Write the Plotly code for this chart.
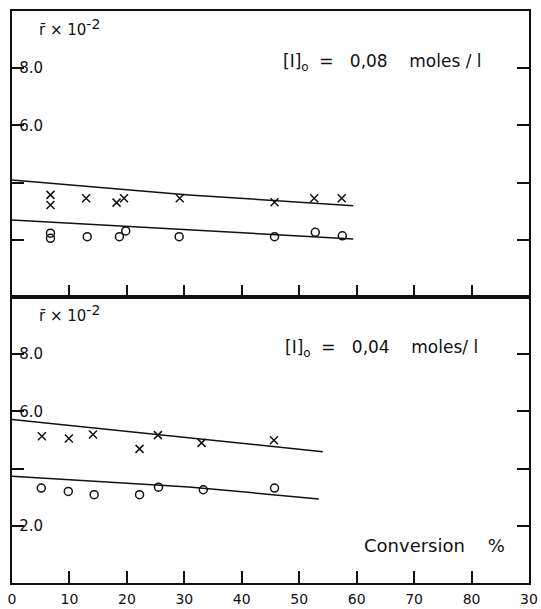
import plotly.graph_objects as go

# ---- data: [I]o = 0.08 moles/l (upper panel)
top_cross_x = [6.7, 6.7, 12.9, 18.2, 19.5, 29.2, 45.7, 52.6, 57.4]
top_cross_y = [3.57, 3.22, 3.45, 3.30, 3.45, 3.45, 3.31, 3.45, 3.45]
top_circ_x = [6.7, 6.7, 13.1, 18.7, 19.8, 29.1, 45.7, 52.8, 57.5]
top_circ_y = [2.23, 2.05, 2.11, 2.11, 2.31, 2.11, 2.11, 2.26, 2.14]
top_line_x = [0, 30.8, 59.4]
top_upper_line_y = [4.09, 3.57, 3.19]
top_lower_line_y = [2.69, 2.34, 2.03]

# ---- data: [I]o = 0.04 moles/l (lower panel)
bot_cross_x = [5.2, 9.9, 14.1, 22.2, 25.4, 33.0, 45.6]
bot_cross_y = [5.13, 5.05, 5.19, 4.69, 5.17, 4.90, 4.99]
bot_circ_x = [5.1, 9.8, 14.3, 22.2, 25.5, 33.3, 45.7]
bot_circ_y = [3.32, 3.20, 3.09, 3.09, 3.35, 3.26, 3.32]
bot_upper_line_x = [0, 30.8, 54.1]
bot_upper_line_y = [5.72, 5.08, 4.59]
bot_lower_line_x = [0, 30.8, 53.4]
bot_lower_line_y = [3.73, 3.36, 2.94]

x_tickvals = [0, 10, 20, 30, 40, 50, 60, 70, 80, 90]
x_ticktext = ["0", "10", "20", "30", "40", "50", "60", "70", "80", "30"]
y_tickvals = [2, 4, 6, 8]
top_y_ticktext = ["", "", "6.0", "8.0"]
bot_y_ticktext = ["2.0", "", "6.0", "8.0"]

FONT = "DejaVu Sans"
BLACK = "#111111"

fig = go.Figure()

def add_panel(xa, ya, cx, cy, ox, oy, ulx, uly, llx, lly):
    fig.add_trace(go.Scatter(x=ulx, y=uly, mode="lines", line=dict(color=BLACK, width=1.5),
                             xaxis=xa, yaxis=ya, showlegend=False, hoverinfo="skip"))
    fig.add_trace(go.Scatter(x=llx, y=lly, mode="lines", line=dict(color=BLACK, width=1.5),
                             xaxis=xa, yaxis=ya, showlegend=False, hoverinfo="skip"))
    fig.add_trace(go.Scatter(x=cx, y=cy, mode="markers",
                             marker=dict(symbol="x-thin", size=8, line=dict(color=BLACK, width=1.5)),
                             xaxis=xa, yaxis=ya, showlegend=False))
    fig.add_trace(go.Scatter(x=ox, y=oy, mode="markers",
                             marker=dict(symbol="circle-open", size=8, color=BLACK, line=dict(color=BLACK, width=1.5)),
                             xaxis=xa, yaxis=ya, showlegend=False))

add_panel("x2", "y2", top_cross_x, top_cross_y, top_circ_x, top_circ_y,
          top_line_x, top_upper_line_y, top_line_x, top_lower_line_y)
add_panel("x", "y", bot_cross_x, bot_cross_y, bot_circ_x, bot_circ_y,
          bot_upper_line_x, bot_upper_line_y, bot_lower_line_x, bot_lower_line_y)

common_x = dict(range=[0, 90], tickvals=x_tickvals, ticks="inside", ticklen=12, tickwidth=1.5,
                tickcolor=BLACK, showline=True, linewidth=2, linecolor=BLACK, mirror=True,
                showgrid=False, zeroline=False, automargin=False)
common_y = dict(range=[0, 10], tickvals=y_tickvals, ticks="inside", ticklen=12, tickwidth=1.5,
                tickcolor=BLACK, showline=True, linewidth=2, linecolor=BLACK, mirror="ticks",
                showgrid=False, zeroline=False, ticklabelstandoff=-36,
                automargin=False, tickfont=dict(family=FONT, size=15, color=BLACK))

fig.update_layout(
    width=541, height=609,
    margin=dict(l=12, r=12, t=11, b=26),
    paper_bgcolor="white", plot_bgcolor="white",
    font=dict(family=FONT, color=BLACK),
    xaxis=dict(common_x, anchor="y", domain=[0, 1], ticktext=x_ticktext, ticklabelstandoff=2,
               ticklabeloverflow="allow",
               tickfont=dict(family=FONT, size=14, color=BLACK)),
    xaxis2=dict(common_x, anchor="y2", domain=[0, 1], showticklabels=False, matches="x"),
    yaxis=dict(common_y, anchor="x", domain=[0, 0.5], ticktext=bot_y_ticktext),
    yaxis2=dict(common_y, anchor="x2", domain=[0.5, 1], ticktext=top_y_ticktext),
)

ann_font = dict(family=FONT, size=17, color=BLACK)
rlabel = "r\u0304 \u00d7 10<sup><span style='font-size:14px'>-2</span></sup>"
r_font = dict(family=FONT, size=15, color=BLACK)
fig.add_annotation(text=rlabel, xref="x2 domain", yref="y2 domain",
                   x=0.048, y=0.99, xanchor="left", yanchor="top", showarrow=False, font=r_font)
fig.add_annotation(text=rlabel, xref="x domain", yref="y domain",
                   x=0.048, y=0.99, xanchor="left", yanchor="top", showarrow=False, font=r_font)
fig.add_annotation(text="[I]<sub>o</sub>  =   0,08    moles / l", xref="x2 domain", yref="y2 domain",
                   x=0.913, y=0.82, xanchor="right", yanchor="middle", showarrow=False, font=ann_font)
fig.add_annotation(text="[I]<sub>o</sub>  =   0,04    moles/ l", xref="x domain", yref="y domain",
                   x=0.905, y=0.82, xanchor="right", yanchor="middle", showarrow=False, font=ann_font)
fig.add_annotation(text="Conversion    %", xref="x domain", yref="y domain",
                   x=0.958, y=0.13, xanchor="right", yanchor="middle", showarrow=False,
                   font=dict(family=FONT, size=18, color=BLACK))

fig.write_html("out.html")
